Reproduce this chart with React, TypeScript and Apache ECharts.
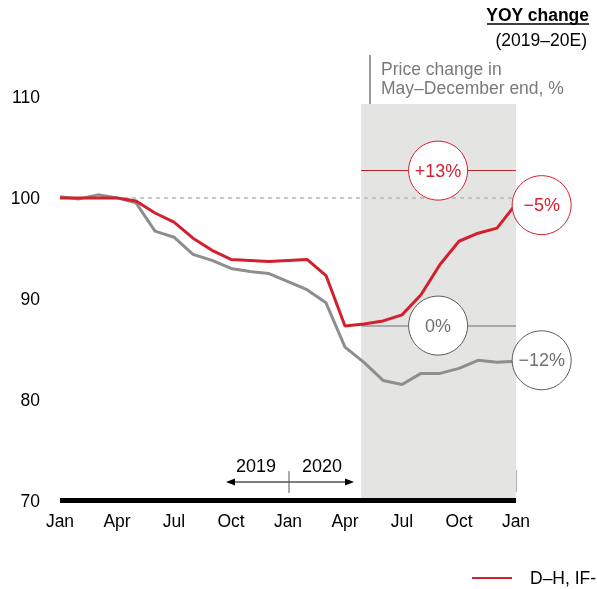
import React, { useEffect, useRef } from 'react';
import * as echarts from 'echarts';

// x positions: months from Jan 2019 (0) to Jan 2021 (24)
const tickLabels = ['Jan', 'Apr', 'Jul', 'Oct', 'Jan', 'Apr', 'Jul', 'Oct', 'Jan'];
const redName = 'D–H, IF-';
const grayName = 'Other';
const redValues = [100, 100, 100, 100, 99.7, 98.5, 97.6, 96.0, 94.8, 93.9, 93.8, 93.7, 93.8, 93.9, 92.3, 87.3, 87.5, 87.8, 88.4, 90.4, 93.4, 95.7, 96.5, 97.0, 99.4];
const grayValues = [100.1, 99.9, 100.3, 100, 99.5, 96.7, 96.1, 94.4, 93.8, 93.0, 92.7, 92.5, 91.7, 90.9, 89.6, 85.2, 83.7, 81.9, 81.5, 82.6, 82.6, 83.1, 83.9, 83.7, 83.8];

// shaded period (May–December) and reference levels
const shadeStart = 15.85;
const shadeEnd = 24;
const shadeTop = 109.3;
const baseLevel = 100;
const redRefLevel = 102.7;
const grayRefLevel = 87.34;

// circle annotations: [x, y, label]
const redCircles: [number, number, string][] = [
  [19.9, 102.7, '+13%'],
  [25.35, 99.28, '−5%'],
];
const grayCircles: [number, number, string][] = [
  [19.9, 87.34, '0%'],
  [25.35, 83.9, '−12%'],
];

const RED = '#d3202f';
const GRAY = '#8e8e8e';
const FONT = '"Liberation Sans", Arial, sans-serif';

export default function App() {
  const ref = useRef<HTMLDivElement>(null);
  useEffect(() => {
    if (!ref.current) return;
    const chart = echarts.init(ref.current, undefined, { renderer: 'svg' });
    const toPairs = (vals: number[]) => vals.map((v, i) => [i, v]);

    const staticGraphics: any[] = [
      { type: 'line', silent: true, shape: { x1: 370, y1: 55, x2: 370, y2: 111 }, style: { stroke: '#7a7a7a', lineWidth: 1.5 } },
      { type: 'circle', silent: true, shape: { cx: 370, cy: 111, r: 3 }, style: { fill: '#6a6a6a' } },
      { type: 'text', silent: true, x: 381, y: 69, style: { text: 'Price change in', fill: '#7a7a7a', font: `17.5px ${FONT}`, verticalAlign: 'middle' } },
      { type: 'text', silent: true, x: 381, y: 88, style: { text: 'May–December end, %', fill: '#7a7a7a', font: `17.5px ${FONT}`, verticalAlign: 'middle' } },
      { type: 'text', silent: true, x: 589, y: 15, style: { text: 'YOY change', fill: '#000', font: `bold 17.5px ${FONT}`, align: 'right', verticalAlign: 'middle' } },
      { type: 'line', silent: true, shape: { x1: 487, y1: 24, x2: 589, y2: 24 }, style: { stroke: '#000', lineWidth: 1.5 } },
      { type: 'text', silent: true, x: 587, y: 40, style: { text: '(2019–20E)', fill: '#000', font: `17.5px ${FONT}`, align: 'right', verticalAlign: 'middle' } },
      { type: 'line', silent: true, shape: { x1: 230, y1: 482, x2: 350, y2: 482 }, style: { stroke: '#000', lineWidth: 1.2 } },
      { type: 'polygon', silent: true, shape: { points: [[226, 482], [235, 478.5], [235, 485.5]] }, style: { fill: '#000' } },
      { type: 'polygon', silent: true, shape: { points: [[354, 482], [345, 478.5], [345, 485.5]] }, style: { fill: '#000' } },
      { type: 'line', silent: true, shape: { x1: 289, y1: 471, x2: 289, y2: 493 }, style: { stroke: '#555', lineWidth: 1 } },
      { type: 'text', silent: true, x: 256, y: 466, style: { text: '2019', fill: '#000', font: `18px ${FONT}`, align: 'center', verticalAlign: 'middle' } },
      { type: 'text', silent: true, x: 322, y: 466, style: { text: '2020', fill: '#000', font: `18px ${FONT}`, align: 'center', verticalAlign: 'middle' } },
      { type: 'line', silent: true, shape: { x1: 516, y1: 470, x2: 516, y2: 492 }, style: { stroke: '#9a9a9a', lineWidth: 1.5 } },
    ];

    chart.setOption({
      animation: false,
      textStyle: { fontFamily: FONT },
      grid: { left: 60, right: 81, top: 97, bottom: 88.5 },
      legend: {
        data: [redName],
        left: 472,
        top: 569,
        padding: 0,
        icon: 'rect',
        itemWidth: 40,
        itemHeight: 2,
        textStyle: { fontSize: 17.5, color: '#000', padding: [0, 0, 0, 13] },
      },
      xAxis: {
        type: 'value',
        min: 0,
        max: 24,
        interval: 3,
        axisLine: { show: true, onZero: false, lineStyle: { color: '#000', width: 5, cap: 'butt' } },
        axisTick: { show: false },
        splitLine: { show: false },
        axisLabel: {
          formatter: (v: number) => tickLabels[Math.round(v / 3)],
          fontSize: 17.5,
          color: '#000',
          margin: 11,
        },
      },
      yAxis: {
        type: 'value',
        min: 70,
        max: 110,
        interval: 10,
        axisLine: { show: false },
        axisTick: { show: false },
        splitLine: { show: false },
        axisLabel: { fontSize: 17.5, color: '#000', margin: 20 },
      },
      series: [
        {
          name: 'helper',
          type: 'line',
          data: [],
          silent: true,
          markArea: {
            silent: true,
            z: 0,
            itemStyle: { color: '#e4e4e2' },
            data: [[{ xAxis: shadeStart, yAxis: shadeTop }, { xAxis: shadeEnd, yAxis: 70 }]],
          },
          markLine: {
            silent: true,
            z: 1,
            symbol: 'none',
            label: { show: false },
            lineStyle: { type: [4, 4], color: '#b8b8b8', width: 1.5 },
            data: [[{ coord: [0, baseLevel] }, { coord: [24, baseLevel] }]],
          },
        },
        {
          name: grayName,
          type: 'line',
          data: toPairs(grayValues),
          showSymbol: false,
          symbol: 'none',
          silent: true,
          z: 2,
          lineStyle: { color: GRAY, width: 3 },
          itemStyle: { color: GRAY },
          markLine: {
            silent: true,
            z: 3,
            symbol: 'none',
            label: { show: false },
            lineStyle: { type: 'solid', color: '#a9a9a9', width: 2 },
            data: [[{ coord: [shadeStart, grayRefLevel] }, { coord: [shadeEnd, grayRefLevel] }]],
          },
        },
        {
          name: redName,
          type: 'line',
          data: toPairs(redValues),
          showSymbol: false,
          symbol: 'none',
          silent: true,
          z: 4,
          lineStyle: { color: RED, width: 3 },
          itemStyle: { color: RED },
          markLine: {
            silent: true,
            z: 3,
            symbol: 'none',
            label: { show: false },
            lineStyle: { type: 'solid', color: '#b3262c', width: 1 },
            data: [[{ coord: [shadeStart, redRefLevel] }, { coord: [shadeEnd, redRefLevel] }]],
          },
        },
      ],
      graphic: staticGraphics,
    });

    const circleGraphics = (arr: [number, number, string][], stroke: string, textColor: string) =>
      arr.flatMap(([x, y, label]) => {
        const p = chart.convertToPixel({ gridIndex: 0 }, [x, y]) as number[];
        return [
          { type: 'circle', silent: true, z: 100, shape: { cx: p[0], cy: p[1], r: 29.5 }, style: { fill: '#fff', stroke, lineWidth: 1 } },
          { type: 'text', silent: true, z: 101, x: p[0], y: p[1], style: { text: label, fill: textColor, font: `18px ${FONT}`, align: 'center', verticalAlign: 'middle' } },
        ];
      });

    chart.setOption({
      graphic: [
        ...staticGraphics,
        ...circleGraphics(redCircles, RED, RED),
        ...circleGraphics(grayCircles, '#5a5a5a', '#707070'),
      ],
    });
    return () => chart.dispose();
  }, []);
  return <div ref={ref} style={{ position: 'fixed', left: 0, top: 0, width: 597, height: 589 }} />;
}
